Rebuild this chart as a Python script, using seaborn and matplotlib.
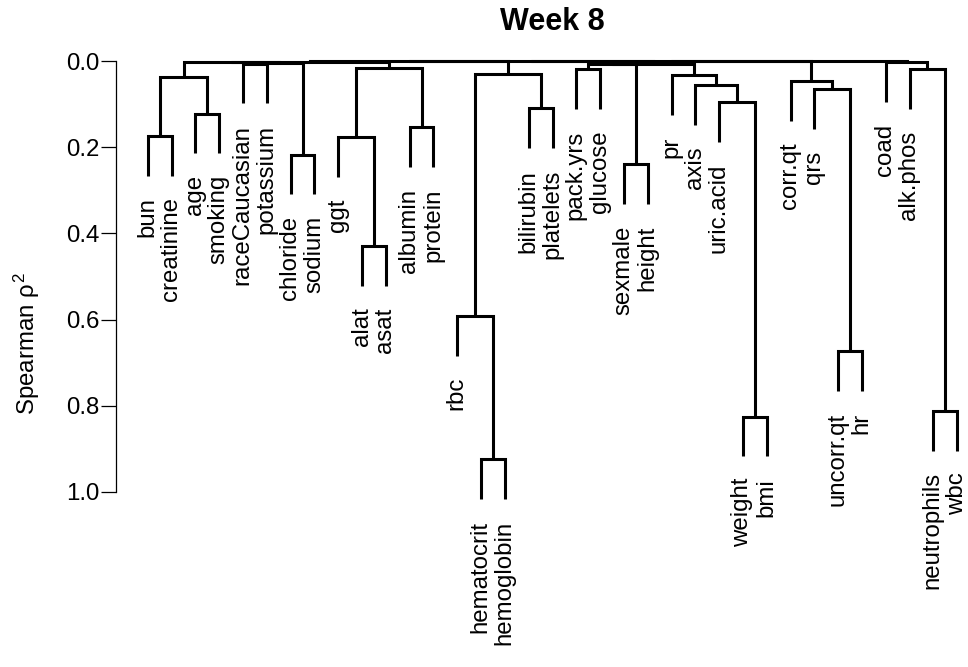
import numpy as np
import pandas as pd
import matplotlib
matplotlib.use("Agg")
import matplotlib.pyplot as plt
import seaborn as sns

# Variables clustered by Spearman rho^2 similarity (week 8 visit)
variables = ["bun", "creatinine", "age", "smoking", "raceCaucasian", "potassium",
             "chloride", "sodium", "ggt", "alat", "asat", "albumin", "protein",
             "rbc", "hematocrit", "hemoglobin", "bilirubin", "platelets",
             "pack.yrs", "glucose", "sexmale", "height", "pr", "axis", "uric.acid",
             "weight", "bmi", "corr.qt", "qrs", "uncorr.qt", "hr", "coad",
             "alk.phos", "neutrophils", "wbc"]

# hclust-style merge table: negative = leaf number, positive = earlier merge step
merge_left = [-15, -26, -34, -30, -14, -10, -21, -7, -9, -1, -12, -3, -17,
              -25, -29, -24, -28, 10, -23, 5, -19, -33, 9, 21, -5, 24, 25,
              -32, 18, 29, 30, 31, 32, 33]
merge_right = [-16, -27, -35, -31, 1, -11, -22, -8, 6, -2, -13, -4, -18,
               2, 4, 14, 15, 12, 16, 13, -20, 3, 11, 7, -6, 19, 8,
               22, 27, 23, 20, 26, 17, 28]
merge_rho2 = [0.924, 0.825, 0.812, 0.674, 0.591, 0.429, 0.240, 0.217, 0.176,
              0.174, 0.154, 0.122, 0.110, 0.096, 0.066, 0.056, 0.046, 0.037,
              0.032, 0.031, 0.019, 0.019, 0.0155, 0.007, 0.006, 0.006, 0.005,
              0.003, 0.002, 0.0015, 0.001, 0.0008, 0.0005, 0.0]

y_ticks = [0.0, 0.2, 0.4, 0.6, 0.8, 1.0]
y_ticklabels = ["0.0", "0.2", "0.4", "0.6", "0.8", "1.0"]

sns.set_theme(style="white")
plt.rcParams["font.family"] = ["Liberation Sans", "DejaVu Sans"]
plt.rcParams["mathtext.fontset"] = "custom"
plt.rcParams["mathtext.rm"] = "Liberation Sans"
plt.rcParams["mathtext.it"] = "Liberation Sans"
plt.rcParams["mathtext.bf"] = "Liberation Sans:bold"
for key in ["text.color", "axes.labelcolor", "xtick.color", "ytick.color",
            "axes.edgecolor"]:
    plt.rcParams[key] = "black"

n_merge = len(merge_rho2)
hang = 0.1 * (max(merge_rho2) - min(merge_rho2))


def leaf_order(step):
    out = []
    for child in (merge_left[step - 1], merge_right[step - 1]):
        if child < 0:
            out.append(-child)
        else:
            out.extend(leaf_order(child))
    return out


order = leaf_order(n_merge)
leaf_pos = {leaf: i + 1 for i, leaf in enumerate(order)}

# x centre of every merge, computed bottom-up
centre = {}
segments = []
leaf_end = {}
for step in range(1, n_merge + 1):
    h = merge_rho2[step - 1]
    xs, ys = [], []
    for child in (merge_left[step - 1], merge_right[step - 1]):
        if child < 0:
            cx = leaf_pos[-child]
            cy = h + hang
            leaf_end[-child] = (cx, cy)
        else:
            cx = centre[child]
            cy = merge_rho2[child - 1]
        xs.append(cx)
        ys.append(cy)
    centre[step] = (xs[0] + xs[1]) / 2
    path = [(xs[0], ys[0]), (xs[0], h), (xs[1], h), (xs[1], ys[1])]
    for k, (px, py) in enumerate(path):
        segments.append({"seg": step, "k": k, "x": px, "y": py})

seg_df = pd.DataFrame(segments)

W, H = 968, 667
fig = plt.figure(figsize=(W / 100, H / 100), dpi=100)

n = len(variables)
pad = 0.04 * (n - 1)
left_px, width_px = 115.5, 874.0
top_px, bot_px = 40.0, 640.0
y0_px, y1_px = 61.0, 492.0
ax = fig.add_axes([left_px / W, 1 - bot_px / H, width_px / W, (bot_px - top_px) / H])

sns.lineplot(data=seg_df, x="x", y="y", units="seg", estimator=None, sort=False,
             color="black", linewidth=2.2, ax=ax, legend=False)
for line in ax.get_lines():
    line.set_solid_joinstyle("miter")
    line.set_solid_capstyle("butt")

ax.set_xlim(1 - pad, n + pad)
scale = y1_px - y0_px
ax.set_ylim((bot_px - y0_px) / scale, (top_px - y0_px) / scale)

for leaf, (lx, ly) in leaf_end.items():
    ax.annotate(variables[leaf - 1], xy=(lx, ly), xytext=(4.0, -15.5),
                textcoords="offset points", rotation=90, rotation_mode="anchor",
                ha="right", va="baseline", fontsize=17.3, color="black")

for s in ["top", "right", "bottom"]:
    ax.spines[s].set_visible(False)
ax.spines["left"].set_bounds(0.0, 1.0)
ax.spines["left"].set_linewidth(0.9)
ax.spines["left"].set_color("black")
ax.set_xticks([])
ax.set_yticks(y_ticks)
ax.set_yticklabels(y_ticklabels)
ax.tick_params(axis="y", direction="out", length=10.8, width=0.9, pad=1.0,
               labelsize=17.3, colors="black", left=True)
ax.set_xlabel("")
ax.set_ylabel("")
ax.grid(False)

fig.text(35.3 / W, 1 - 344 / H, r"Spearman $\rho^2$", rotation=90,
         rotation_mode="anchor", ha="center", va="baseline", fontsize=17.3,
         color="black")
fig.text((left_px + width_px / 2) / W, 1 - 30 / H, "Week 8", ha="center",
         va="baseline", fontsize=22, fontweight="bold", color="black")

fig.savefig("out.png", dpi=100)
